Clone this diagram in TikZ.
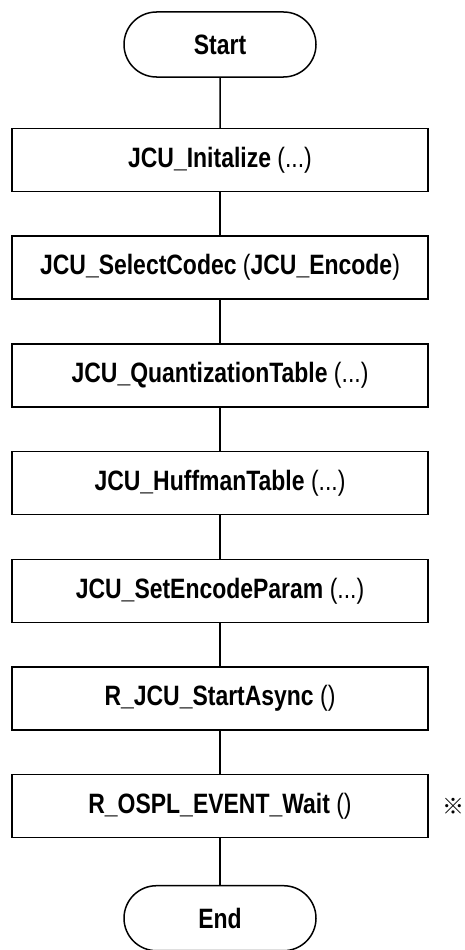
\documentclass[tikz,border=0pt]{standalone}
\usepackage{fontspec}
\setmainfont[FakeStretch=0.82]{Liberation Sans}
\newfontfamily\cjkfont{Noto Sans CJK JP}
\usetikzlibrary{positioning,shapes.misc}
\tikzset{
 flowline/.style={draw=black,line width=1.5pt},
 terminal/.style={draw=black,line width=1.5pt,rounded rectangle,minimum width=192pt,minimum height=65pt,inner sep=0pt,font=\fontsize{28}{32}\selectfont},
 procbox/.style={draw=black,line width=1.5pt,minimum width=416pt,minimum height=63pt,inner sep=0pt,font=\fontsize{28}{32}\selectfont},
}
\newcommand{\fn}[1]{\textbf{#1}}
\begin{document}
\begin{tikzpicture}[x=1pt,y=1pt,node distance=43.2pt]
\useasboundingbox (0,0) rectangle (465,-950);
\node[terminal] (start) at (220,-44.5) {\fn{Start}};
\node[procbox,below=50pt of start] (init) {\fn{JCU\_Initalize} (...)};
\node[procbox,below=of init] (codec) {\fn{JCU\_SelectCodec} (\fn{JCU\_Encode})};
\node[procbox,below=of codec] (qtable) {\fn{JCU\_QuantizationTable} (...)};
\node[procbox,below=of qtable] (htable) {\fn{JCU\_HuffmanTable} (...)};
\node[procbox,below=of htable] (param) {\fn{JCU\_SetEncodeParam} (...)};
\node[procbox,below=of param] (async) {\fn{R\_JCU\_StartAsync} ()};
\node[procbox,below=of async] (wait) {\fn{R\_OSPL\_EVENT\_Wait} ()};
\node[terminal,below=46.5pt of wait] (end) {\fn{End}};
\node[font=\cjkfont\fontsize{22}{26}\selectfont,right=10pt of wait] (note) {※};
\draw[flowline] (start) -- (init);
\draw[flowline] (init) -- (codec);
\draw[flowline] (codec) -- (qtable);
\draw[flowline] (qtable) -- (htable);
\draw[flowline] (htable) -- (param);
\draw[flowline] (param) -- (async);
\draw[flowline] (async) -- (wait);
\draw[flowline] (wait) -- (end);
\end{tikzpicture}
\end{document}
